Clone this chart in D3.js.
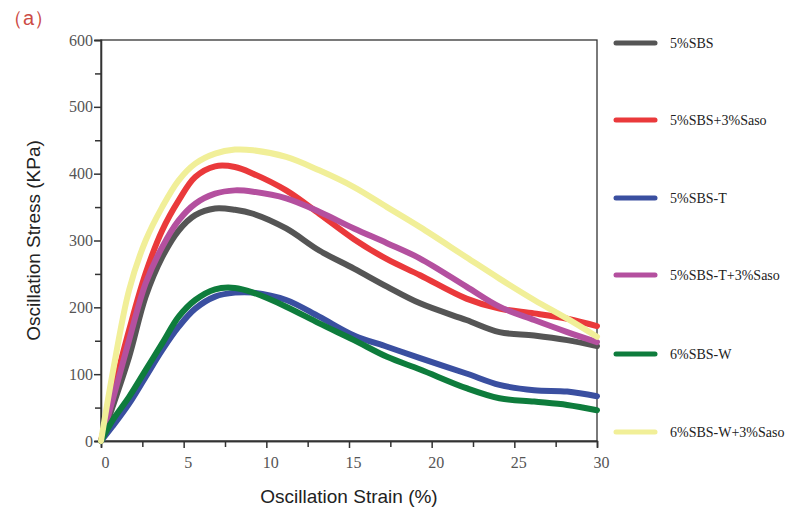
<!DOCTYPE html>
<html>
<head>
<meta charset="utf-8">
<script src="https://cdn.jsdelivr.net/npm/d3@7"></script>
<style>
  body { margin: 0; background: #fff; }
  svg text { font-family: "Liberation Serif", "Times New Roman", serif; }
</style>
</head>
<body>
<div id="chart"></div>
<script>
// strain (%) shared by every series
const strain = [0, 0.7, 1.7, 2.7, 3.7, 4.7, 5.7, 6.9, 8.1, 9.2, 11.2, 13.2, 15.3, 17.3, 19.3, 22.1, 24.1, 26.2, 28.2, 30];

const sbs5        = [0, 51, 126, 216, 275, 315, 338, 348, 346, 340, 318, 285, 258, 231, 206, 181, 163, 158, 151, 142];
const sbs5Saso    = [0, 71, 166, 251, 315, 360, 395, 411, 410, 400, 375, 340, 302, 272, 248, 213, 198, 191, 183, 172];
const sbs5T       = [0, 22, 56, 96, 136, 171, 198, 216, 222, 222, 211, 186, 158, 141, 124, 101, 84, 76, 74, 67];
const sbs5TSaso   = [0, 61, 151, 236, 290, 330, 355, 370, 375, 373, 363, 343, 318, 296, 273, 231, 201, 181, 163, 148];
const sbs6W       = [0, 31, 66, 106, 146, 186, 211, 227, 229, 222, 201, 176, 151, 126, 107, 79, 64, 59, 54, 46];
const sbs6WSaso   = [0, 101, 226, 300, 350, 390, 415, 430, 436, 435, 425, 405, 380, 350, 320, 275, 243, 211, 183, 156];

const seriesNames = ["5%SBS", "5%SBS+3%Saso", "5%SBS-T", "5%SBS-T+3%Saso", "6%SBS-W", "6%SBS-W+3%Saso"];
const seriesValues = [sbs5, sbs5Saso, sbs5T, sbs5TSaso, sbs6W, sbs6WSaso];
const seriesColors = ["#555555", "#ea393b", "#3a4fa0", "#b4509f", "#0e7c3c", "#f1ef98"];

const xTicks = [0, 5, 10, 15, 20, 25, 30];
const yTicks = [0, 100, 200, 300, 400, 500, 600];

const width = 802, height = 512;
const margin = {top: 40, right: 205, bottom: 71, left: 101};

let svg = d3.select("#chart").append("svg")
    .attr("width", width)
    .attr("height", height);

let xScale = d3.scaleLinear().domain([0, 30]).range([margin.left, width - margin.right]);
let yScale = d3.scaleLinear().domain([0, 600]).range([height - margin.bottom, margin.top]);

// frame
svg.append("rect")
    .attr("x", xScale(0))
    .attr("y", yScale(600))
    .attr("width", xScale(30) - xScale(0))
    .attr("height", yScale(0) - yScale(600))
    .attr("fill", "none")
    .attr("stroke", "#333")
    .attr("stroke-width", 1.3);

// minor ticks
let xMinor = svg.append("g")
    .attr("transform", `translate(0, ${yScale(0)})`)
    .call(d3.axisBottom(xScale).tickValues(d3.range(2.5, 30, 5)).tickSize(6).tickFormat(""));
let yMinor = svg.append("g")
    .attr("transform", `translate(${xScale(0)}, 0)`)
    .call(d3.axisLeft(yScale).tickValues(d3.range(50, 600, 100)).tickSize(6).tickFormat(""));

// major axes
let xAxisGroup = svg.append("g")
    .attr("transform", `translate(0, ${yScale(0)})`)
    .call(d3.axisBottom(xScale).tickValues(xTicks).tickSize(7).tickPadding(9).tickFormat(d3.format("d")));
let yAxisGroup = svg.append("g")
    .attr("transform", `translate(${xScale(0)}, 0)`)
    .call(d3.axisLeft(yScale).tickValues(yTicks).tickSize(7).tickPadding(1).tickFormat(d3.format("d")));

[xMinor, yMinor, xAxisGroup, yAxisGroup].forEach(g => {
    g.select(".domain").attr("stroke", "#333").attr("stroke-width", 1.3);
    g.selectAll(".tick line").attr("stroke", "#333").attr("stroke-width", 1.5);
});
[xAxisGroup, yAxisGroup].forEach(g => {
    g.selectAll(".tick text")
        .style("font-family", "'Liberation Serif', serif")
        .style("font-size", "16px")
        .attr("fill", "#555");
});
xAxisGroup.selectAll(".tick text").attr("dx", 4);

// lines
const line = d3.line()
    .x((d, i) => xScale(strain[i]))
    .y(d => yScale(d))
    .curve(d3.curveCatmullRom.alpha(0.5));

svg.append("g").selectAll("path")
    .data(seriesValues)
    .enter().append("path")
    .attr("d", d => line(d))
    .attr("fill", "none")
    .attr("stroke", (d, i) => seriesColors[i])
    .attr("stroke-width", 6)
    .attr("stroke-linecap", "round")
    .attr("stroke-linejoin", "round");

// axis titles
svg.append("text")
    .attr("transform", `translate(40, ${(yScale(0) + yScale(600)) / 2}) rotate(-90)`)
    .style("text-anchor", "middle")
    .style("font-family", "'Liberation Sans', Arial, sans-serif")
    .style("font-size", "19px")
    .attr("fill", "#222")
    .text("Oscillation Stress (KPa)");

svg.append("text")
    .attr("x", (xScale(0) + xScale(30)) / 2)
    .attr("y", 503)
    .style("text-anchor", "middle")
    .style("font-family", "'Liberation Sans', Arial, sans-serif")
    .style("font-size", "19px")
    .attr("fill", "#222")
    .text("Oscillation Strain (%)");

// panel label
svg.append("text")
    .attr("x", 3)
    .attr("y", 25)
    .style("font-family", "'Liberation Sans', Arial, sans-serif")
    .style("font-size", "20px")
    .attr("fill", "#cc4b45")
    .text("（a）");

// legend
const legendY = [43, 120, 198, 275, 354, 432];
let legend = svg.append("g").selectAll("g")
    .data(seriesNames)
    .enter().append("g")
    .attr("transform", (d, i) => `translate(0, ${legendY[i]})`);

legend.append("line")
    .attr("x1", 616).attr("x2", 655)
    .attr("y1", 0).attr("y2", 0)
    .attr("stroke", (d, i) => seriesColors[i])
    .attr("stroke-width", 5)
    .attr("stroke-linecap", "round");

legend.append("text")
    .attr("x", 670)
    .attr("y", 5)
    .style("font-family", "'Liberation Serif', serif")
    .style("font-size", "14px")
    .attr("fill", "#222")
    .text(d => d);
</script>
</body>
</html>
